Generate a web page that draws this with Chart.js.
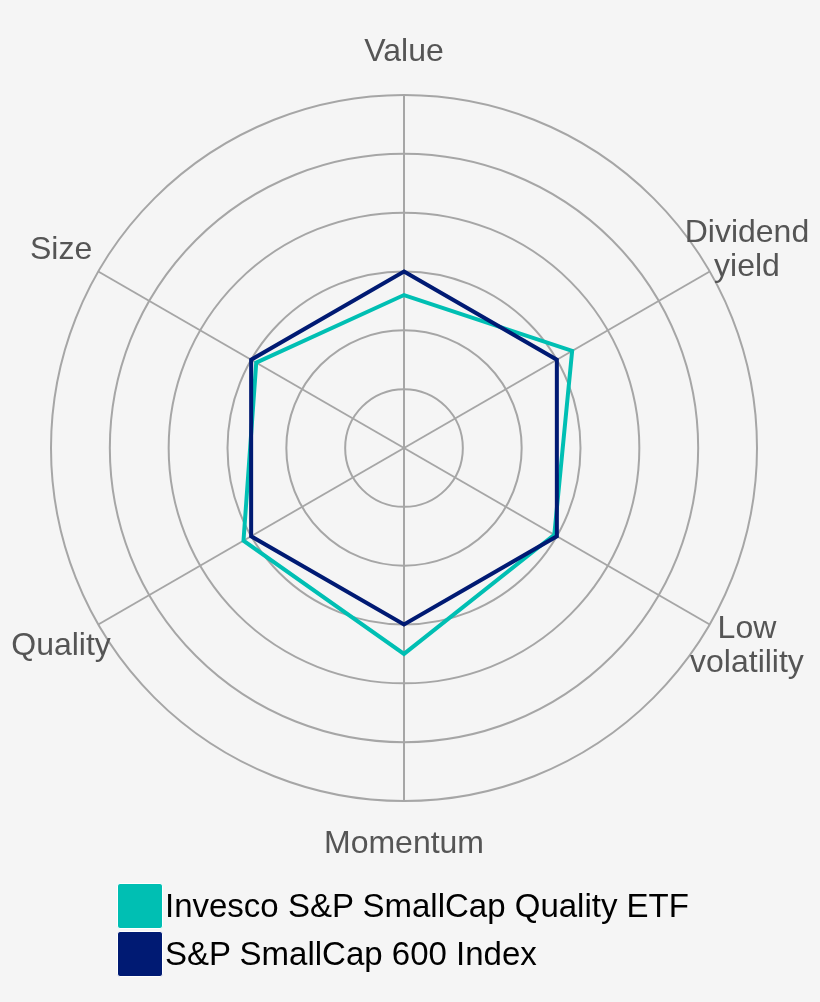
<!DOCTYPE html>
<html>
<head>
<meta charset="utf-8">
<script src="https://cdn.jsdelivr.net/npm/chart.js@4"></script>
<style>
    body { margin: 0; background: #f5f5f5; font-family: 'Liberation Sans', Arial, sans-serif; }
    #wrap { position: relative; width: 820px; height: 1002px; }
    #legend { position: absolute; left: 117px; top: 883px; }
    .row { display: flex; align-items: center; height: 46px; margin-bottom: 2px; }
    .box { width: 44px; height: 44px; border: 1px solid #fff; border-radius: 3px; }
    .row span { margin-left: 2px; font-size: 33px; color: #000; white-space: nowrap; }
</style>
</head>
<body>
<div id="wrap">
    <canvas id="myChart"></canvas>
    <div id="legend"></div>
</div>
<script>
// Factor names, clockwise from the top
const categories = ['Value', ['Dividend', 'yield'], ['Low', 'volatility'], 'Momentum', 'Quality', 'Size'];

// Series values (scale 0 - 6)
const etfValues = [2.6, 3.3, 2.95, 3.5, 3.15, 2.9];
const indexValues = [3, 3, 3, 3, 3, 3];

const seriesNames = ['Invesco S&P SmallCap Quality ETF', 'S&P SmallCap 600 Index'];
const seriesColors = ['#00bfb3', '#001a73'];

// Draw the factor names centred just outside the outer ring
const factorLabels = {
    id: 'factorLabels',
    afterDraw(chart) {
        const scale = chart.scales.r;
        const ctx = chart.ctx;
        ctx.save();
        ctx.font = "32px 'Liberation Sans', Arial, sans-serif";
        ctx.fillStyle = '#555555';
        ctx.textAlign = 'center';
        ctx.textBaseline = 'middle';
        categories.forEach((label, i) => {
            const lines = Array.isArray(label) ? label : [label];
            const pos = scale.getPointPosition(i, scale.drawingArea + 43);
            const lineHeight = 34;
            const startY = pos.y - (lines.length - 1) * lineHeight / 2;
            lines.forEach((line, j) => {
                ctx.fillText(line, pos.x, startY + j * lineHeight);
            });
        });
        ctx.restore();
    }
};

const ctx = document.getElementById('myChart').getContext('2d');
const myChart = new Chart(ctx, {
    type: 'radar',
    data: {
        labels: categories,
        datasets: [
            {
                label: seriesNames[0],
                data: etfValues,
                borderColor: seriesColors[0],
                backgroundColor: seriesColors[0],
                borderWidth: 4,
                borderJoinStyle: 'miter',
                pointRadius: 0,
                fill: false,
                order: 2
            },
            {
                label: seriesNames[1],
                data: indexValues,
                borderColor: seriesColors[1],
                backgroundColor: seriesColors[1],
                borderWidth: 4,
                borderJoinStyle: 'miter',
                pointRadius: 0,
                fill: false,
                order: 1
            }
        ]
    },
    options: {
        responsive: true,
        maintainAspectRatio: false,
        animation: false,
        layout: {
            padding: { top: 95, bottom: 201, left: 0, right: 12 }
        },
        plugins: {
            legend: { display: false },
            tooltip: { enabled: false }
        },
        scales: {
            r: {
                min: 0,
                max: 6,
                ticks: { stepSize: 1, display: false },
                grid: { circular: true, color: '#a6a6a6', lineWidth: 2 },
                angleLines: { color: '#a6a6a6', lineWidth: 2 },
                pointLabels: { display: false }
            }
        }
    },
    plugins: [factorLabels]
});

// Legend below the chart, one series per row
const legend = document.getElementById('legend');
seriesNames.forEach((name, i) => {
    const row = document.createElement('div');
    row.className = 'row';
    const box = document.createElement('div');
    box.className = 'box';
    box.style.background = seriesColors[i];
    const text = document.createElement('span');
    text.textContent = name;
    row.appendChild(box);
    row.appendChild(text);
    legend.appendChild(row);
});
</script>
</body>
</html>
